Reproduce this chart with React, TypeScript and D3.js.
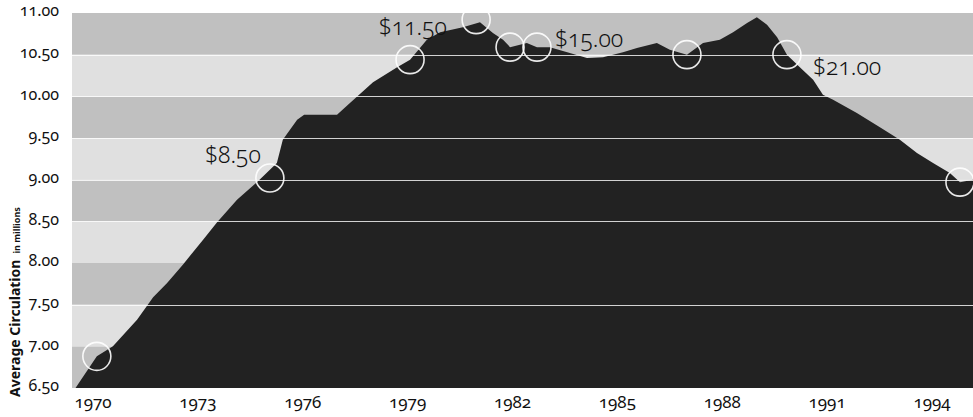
import React, { useEffect, useRef } from 'react';
import * as d3 from 'd3';

// circulation outline (year, millions)
const years = [
  1969.5, 1970.11, 1970.57, 1971.26, 1971.72, 1972.12, 1972.57, 1973.15, 1973.55, 1974.12,
  1974.69, 1975.26, 1975.43, 1975.84, 1976.04, 1976.98, 1977.35, 1978.01, 1978.7, 1979.07,
  1979.55, 1979.93, 1980.58, 1981.07, 1981.44, 1981.73, 1981.93, 1982.41, 1982.7, 1983.07,
  1983.64, 1984.13, 1984.59, 1985.16, 1985.56, 1986.13, 1986.5, 1986.99, 1987.45, 1987.93,
  1988.31, 1988.71, 1988.99, 1989.28, 1989.57, 1989.85, 1990.22, 1990.6, 1990.88, 1991.17,
  1991.85, 1992.51, 1993.08, 1993.57, 1994.03, 1994.51, 1994.8, 1995.2,
];
const circulation = [
  6.5, 6.88, 7.0, 7.32, 7.59, 7.76, 7.98, 8.28, 8.49, 8.76,
  8.97, 9.2, 9.48, 9.72, 9.78, 9.78, 9.92, 10.17, 10.35, 10.44,
  10.68, 10.77, 10.83, 10.89, 10.76, 10.68, 10.59, 10.64, 10.59, 10.59,
  10.52, 10.46, 10.47, 10.53, 10.58, 10.64, 10.56, 10.5, 10.64, 10.68,
  10.77, 10.88, 10.95, 10.86, 10.71, 10.5, 10.35, 10.2, 10.02, 9.96,
  9.8, 9.63, 9.48, 9.32, 9.2, 9.08, 8.97, 9.0,
];

// price change markers
const markYears = [1970.11, 1975.06, 1979.07, 1980.96, 1981.93, 1982.7, 1986.99, 1989.85, 1994.8];
const markValues = [6.88, 9.02, 10.44, 10.92, 10.59, 10.59, 10.5, 10.5, 8.97];

const priceLabels = ['$8.50', '$11.50', '$15.00', '$21.00'];
const priceLabelYears = [1974.0, 1979.15, 1984.19, 1991.57];
const priceLabelValues = [9.2, 10.74, 10.59, 10.26];

const xTicks = [1970, 1973, 1976, 1979, 1982, 1985, 1988, 1991, 1994];
const yTicks = [6.5, 7, 7.5, 8, 8.5, 9, 9.5, 10, 10.5, 11];
const gridValues = [7.5, 8.5, 9, 9.5, 10, 10.5];

const App: React.FC = () => {
  const ref = useRef<SVGSVGElement>(null);

  useEffect(() => {
    if (!ref.current) return;
    const width = 973;
    const height = 417;
    const left = 72;
    const svg = d3.select(ref.current);
    svg.selectAll('*').remove();
    svg.attr('width', width).attr('height', height);

    const x = d3.scaleLinear().domain([1970, 1994]).range([93, 932]);
    const y = d3.scaleLinear().domain([6.5, 11]).range([388, 13]);
    const font = "'Noto Sans', 'Open Sans', sans-serif";

    // alternating background bands
    const bands = d3.range(yTicks.length - 1).map(i => [yTicks[i], yTicks[i + 1]]);
    svg.append('g')
      .selectAll('rect')
      .data(bands)
      .join('rect')
      .attr('x', left)
      .attr('width', width - left)
      .attr('y', d => y(d[1]))
      .attr('height', d => y(d[0]) - y(d[1]))
      .attr('fill', (d, i) => (i % 2 === 0 ? '#c0c0c0' : '#e0e0e0'));

    const data = years.map((yr, i) => ({ year: yr, value: circulation[i] }));
    const area = d3.area<{ year: number; value: number }>()
      .x(d => x(d.year))
      .y0(y(6.5))
      .y1(d => y(d.value));

    svg.append('path')
      .datum(data)
      .attr('d', area)
      .attr('fill', '#222');

    // white rules
    svg.append('g')
      .selectAll('line')
      .data(gridValues)
      .join('line')
      .attr('x1', left)
      .attr('x2', width)
      .attr('y1', d => Math.round(y(d)) + 0.5)
      .attr('y2', d => Math.round(y(d)) + 0.5)
      .attr('stroke', '#fff')
      .attr('stroke-opacity', 0.8)
      .attr('stroke-width', 1);

    // price change circles
    svg.append('g')
      .selectAll('circle')
      .data(markYears)
      .join('circle')
      .attr('cx', d => x(d))
      .attr('cy', (d, i) => y(markValues[i]))
      .attr('r', 14)
      .attr('fill', 'none')
      .attr('stroke', '#fff')
      .attr('stroke-opacity', 0.9)
      .attr('stroke-width', 1.6);

    svg.append('g')
      .selectAll('text')
      .data(priceLabels)
      .join('text')
      .attr('x', (d, i) => x(priceLabelYears[i]))
      .attr('y', (d, i) => y(priceLabelValues[i]))
      .attr('text-anchor', 'middle')
      .attr('font-family', font)
      .attr('font-weight', 300)
      .attr('font-size', 23)
      .style('font-variant-numeric', 'oldstyle-nums')
      .attr('fill', '#111')
      .text(d => d);

    // y axis labels
    svg.append('g')
      .selectAll('text')
      .data(yTicks)
      .join('text')
      .attr('x', 59)
      .attr('y', d => y(d))
      .attr('dy', '0.2em')
      .attr('text-anchor', 'end')
      .attr('font-family', font)
      .attr('font-size', 16)
      .style('font-variant-numeric', 'oldstyle-nums')
      .attr('fill', '#111')
      .text(d => d3.format('.2f')(d));

    // x axis labels
    svg.append('g')
      .selectAll('text')
      .data(xTicks)
      .join('text')
      .attr('x', d => x(d))
      .attr('y', 408)
      .attr('text-anchor', 'middle')
      .attr('font-family', font)
      .attr('font-size', 17)
      .style('font-variant-numeric', 'oldstyle-nums')
      .attr('fill', '#111')
      .text(d => String(d));

    const title = svg.append('text')
      .attr('transform', 'translate(20,397) rotate(-90)')
      .attr('font-family', font)
      .attr('font-weight', 700)
      .attr('fill', '#111');
    title.append('tspan').attr('font-size', 14).text('Average Circulation');
    title.append('tspan').attr('font-size', 9).attr('dx', 6).text('in millions');
  }, []);

  return <svg ref={ref} style={{ position: 'absolute', left: 0, top: 0 }} />;
};

export default App;
